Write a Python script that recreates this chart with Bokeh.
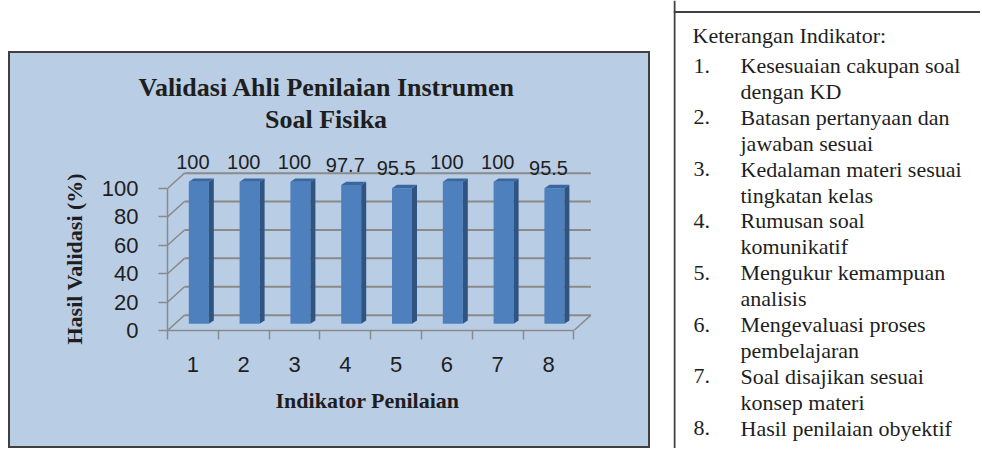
from bokeh.plotting import figure
from bokeh.models import Range1d, FixedTicker, Span, Spacer, Div, Title
from bokeh.layouts import row, column
from bokeh.core.properties import value
from bokeh.embed import file_html
from bokeh.resources import INLINE

# ---------------- data ----------------
indikator = [1, 2, 3, 4, 5, 6, 7, 8]
hasil = [100, 100, 100, 97.7, 95.5, 100, 100, 95.5]
hasil_label = ["100", "100", "100", "97.7", "95.5", "100", "100", "95.5"]
y_ticks = [0, 20, 40, 60, 80, 100]
judul = ["Validasi Ahli Penilaian Instrumen", "Soal Fisika"]
judul_y = "Hasil Validasi (%)"
judul_x = "Indikator Penilaian"
keterangan_judul = "Keterangan Indikator:"
keterangan = [
    ["Kesesuaian cakupan soal", "dengan KD"],
    ["Batasan pertanyaan dan", "jawaban sesuai"],
    ["Kedalaman materi sesuai", "tingkatan kelas"],
    ["Rumusan soal", "komunikatif"],
    ["Mengukur kemampuan", "analisis"],
    ["Mengevaluasi proses", "pembelajaran"],
    ["Soal disajikan sesuai", "konsep materi"],
    ["Hasil penilaian obyektif"],
]

# ---------------- style constants ----------------
BG = "#b9cde5"
GRID = "#8a8a8a"
FRONT = "#4d80bd"
SIDE = "#2f5482"
TOP = "#3a679f"
TXT = "#1e1e1e"
EDGE = "#404040"
SANS = "Liberation Sans"
SERIF = "Liberation Serif"

W1, H1 = 638, 393
PX_X = 50.8     # px per category
PX_Y = 1.42     # px per percent
FL, FR, FT, FB = 157, 48, 81, 116   # frame borders
DX, DY = 17 / PX_X, 10.8            # depth of back wall (data units)
BX, BY = 5.9 / PX_X, 4.7            # bar placement inside depth
BW = 20 / PX_X                      # bar front width
SX, SY = 5 / PX_X, 3.4 / PX_Y       # bar side depth
LY = 19                              # label offset above value

x0 = indikator[0] - 0.5
x1 = indikator[-1] + 0.5
frame_w = W1 - FL - FR
frame_h = H1 - FT - FB

p = figure(width=W1, height=H1, output_backend="svg", toolbar_location=None,
           x_range=Range1d(x0, x0 + frame_w / PX_X),
           y_range=Range1d(0, frame_h / PX_Y),
           min_border_left=FL, min_border_right=FR,
           min_border_top=FT, min_border_bottom=FB,
           styles={"background-color": BG})
p.background_fill_color = BG
p.border_fill_color = BG
p.outline_line_color = None
p.xgrid.visible = False
p.ygrid.visible = False

# back wall gridlines + left wall diagonals + floor edge
gx0 = [x0 + DX for _ in y_ticks]
gx1 = [x1 + DX for _ in y_ticks]
gy = [v + DY for v in y_ticks]
p.segment(x0=gx0, y0=gy, x1=gx1, y1=gy, line_color=GRID, line_width=2)
p.segment(x0=[x0] * len(y_ticks), y0=y_ticks, x1=gx0, y1=gy,
          line_color=GRID, line_width=1.5)
p.segment(x0=[x1], y0=[y_ticks[0]], x1=[x1 + DX], y1=[y_ticks[0] + DY],
          line_color=GRID, line_width=1.5)

# 3D bars
left = [i + BX - BW / 2 for i in indikator]
right = [i + BX + BW / 2 for i in indikator]
bottom = [BY for _ in indikator]
top = [BY + v for v in hasil]
p.quad(left=left, right=right, bottom=bottom, top=top,
       fill_color=FRONT, line_color=None)
side_xs = [[r, r + SX, r + SX, r] for r in right]
side_ys = [[b, b + SY, t + SY, t] for b, t in zip(bottom, top)]
p.patches(xs=side_xs, ys=side_ys, fill_color=SIDE, line_color=None)
top_xs = [[l, r, r + SX, l + SX] for l, r in zip(left, right)]
top_ys = [[t, t, t + SY, t + SY] for t in top]
p.patches(xs=top_xs, ys=top_ys, fill_color=TOP, line_color=None)

# value labels
p.text(x=indikator, y=[v + LY for v in hasil], text=hasil_label,
       text_font=value(SANS), text_font_size="20px", text_color=TXT,
       text_align="center", text_baseline="middle")

# axes
ya = p.yaxis[0]
ya.ticker = FixedTicker(ticks=y_ticks)
ya.bounds = (y_ticks[0], y_ticks[-1])
ya.axis_line_color = GRID
ya.axis_line_width = 1.5
ya.major_tick_line_color = GRID
ya.major_tick_line_width = 1.5
ya.major_tick_out = 9
ya.major_tick_in = 0
ya.minor_tick_line_color = None
ya.major_label_standoff = 20
ya.major_label_text_font = SANS
ya.major_label_text_font_size = "22px"
ya.major_label_text_color = TXT

xa = p.xaxis[0]
xa.ticker = FixedTicker(ticks=indikator, minor_ticks=[i - 0.5 for i in indikator] + [x1])
xa.bounds = (x0, x1)
xa.axis_line_color = GRID
xa.axis_line_width = 1.5
xa.major_tick_line_color = None
xa.major_tick_out = 0
xa.major_tick_in = 0
xa.minor_tick_line_color = GRID
xa.minor_tick_line_width = 1.5
xa.minor_tick_out = 9
xa.minor_tick_in = 0
xa.major_label_standoff = 17
xa.major_label_text_font = SANS
xa.major_label_text_font_size = "22px"
xa.major_label_text_color = TXT

# axis titles as side titles (placed outside the axes)
p.add_layout(Title(text=judul_y, align="left", offset=-14, standoff=20,
                   vertical_align="top",
                   text_font=SERIF, text_font_style="bold", text_font_size="22px",
                   text_color=TXT), "left")
p.add_layout(Title(text=judul_x, align="left", offset=108, standoff=22,
                   text_font=SERIF, text_font_style="bold", text_font_size="22px",
                   text_color=TXT), "below")

# two-line title (inner line first)
p.add_layout(Title(text=judul[1], align="left", offset=97.5, standoff=2,
                   text_font=SERIF, text_font_style="bold", text_font_size="26px",
                   text_color=TXT), "above")
p.add_layout(Title(text=judul[0], align="left", offset=-29, standoff=0,
                   text_font=SERIF, text_font_style="bold", text_font_size="26px",
                   text_color=TXT), "above")

# chart border made of thin blocks
def bar_div(w, h):
    return Div(text="", width=w, height=h, margin=0,
               styles={"background-color": EDGE})

chart_block = column(
    bar_div(W1 + 4, 2),
    row(bar_div(2, H1), p, bar_div(2, H1)),
    bar_div(W1 + 4, 2),
)

# ---------------- text box ----------------
W2, H2 = 307, 448
q = figure(width=W2, height=H2, output_backend="svg", toolbar_location=None,
           x_range=Range1d(0, W2), y_range=Range1d(H2, 0),
           x_axis_type=None, y_axis_type=None, min_border=0)
q.outline_line_color = None
q.background_fill_color = "white"
q.border_fill_color = "white"
q.add_layout(Span(location=1, dimension="height", line_color=EDGE, line_width=2))
q.add_layout(Span(location=11.5, dimension="width", line_color=EDGE, line_width=2))

LINE = 25.9
tx, ty, tt = [19], [35], [keterangan_judul]
k = 0
for n, baris in enumerate(keterangan):
    tx.append(20); ty.append(65 + LINE * k); tt.append(f"{indikator[n]}.")
    for b in baris:
        tx.append(67); ty.append(65 + LINE * k); tt.append(b)
        k += 1
q.text(x=tx, y=ty, text=tt, text_font=value(SERIF), text_font_size="22px",
       text_color=TXT, text_align="left", text_baseline="alphabetic")

layout = row(
    Spacer(width=8, height=1, margin=0),
    column(Spacer(width=W1 + 4, height=51, margin=0), chart_block),
    Spacer(width=23, height=1, margin=0),
    q,
)
open("out.html", "w").write(file_html(layout, INLINE))
